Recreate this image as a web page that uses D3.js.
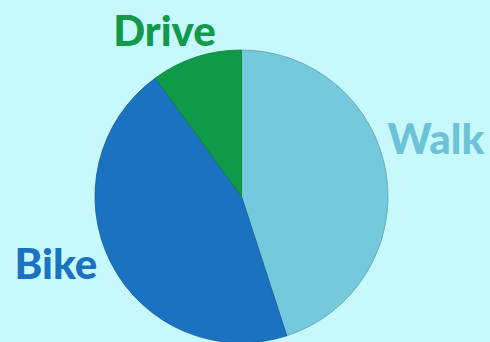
<!DOCTYPE html>
<html>
<head>
<meta charset="utf-8">
<script src="https://cdn.jsdelivr.net/npm/d3@7"></script>
<style>
  html, body { margin: 0; padding: 0; background: #c6f8fc; }
  svg { display: block; }
</style>
</head>
<body>
<svg id="chart" width="490" height="342"></svg>
<script>
const categories = ["Walk", "Bike", "Drive"];
const values = [45, 45, 10];
const colors = ["#74c9dc", "#1a72c0", "#0f9a48"];
const labelColors = ["#6cc3d8", "#1a72c0", "#12994a"];

const width = 490, height = 342;
const cx = 241.5, cy = 196.5, radius = 146.5;

const svg = d3.select("#chart");
svg.append("rect").attr("width", width).attr("height", height).attr("fill", "#c6f8fc");

const data = categories.map((c, i) => ({ name: c, value: values[i], color: colors[i], label: labelColors[i] }));

const pie = d3.pie().sort(null).value(d => d.value);
const arc = d3.arc().innerRadius(0).outerRadius(radius);

const g = svg.append("g").attr("transform", `translate(${cx},${cy})`);

const arcs = pie(data);
g.selectAll("path")
  .data(arcs)
  .join("path")
  .attr("d", arc)
  .attr("fill", d => d.data.color)
  .attr("stroke", d => d3.color(d.data.color).darker(0.6))
  .attr("stroke-width", 0.8);

// label placement: offset from the pie centre, with anchor per side
const labelPlacement = {
  Walk: { dx: 146, dy: -43, anchor: "start" },
  Bike: { dx: -227, dy: 82, anchor: "start" },
  Drive: { dx: -77, dy: -151, anchor: "middle" }
};

g.selectAll("text")
  .data(arcs)
  .join("text")
  .attr("x", d => labelPlacement[d.data.name].dx)
  .attr("y", d => labelPlacement[d.data.name].dy)
  .attr("text-anchor", d => labelPlacement[d.data.name].anchor)
  .attr("font-family", "Lato, 'Open Sans', sans-serif")
  .attr("font-weight", 900)
  .attr("font-size", 42)
  .attr("fill", d => d.data.label)
  .text(d => d.data.name);
</script>
</body>
</html>
